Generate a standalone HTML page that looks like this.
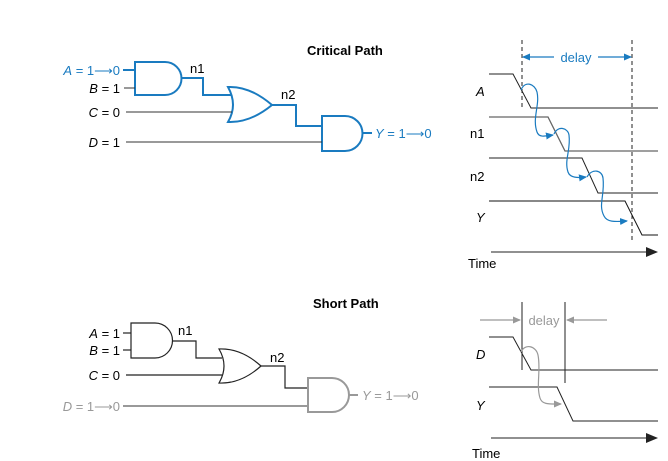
<!DOCTYPE html>
<html><head><style>
html,body{margin:0;padding:0;background:#fff;}
svg{display:block;}
text{font-family:"Liberation Sans",sans-serif;font-size:13px;}
</style></head><body>
<svg width="668" height="461" viewBox="0 0 668 461" xmlns="http://www.w3.org/2000/svg">
<defs>
<marker id="bl" markerWidth="8" markerHeight="8" refX="7" refY="4" orient="auto" markerUnits="userSpaceOnUse"><path d="M0,0.5 L8,4 L0,7.5Z" fill="#1a7bc0"/></marker>
<marker id="gr" markerWidth="8" markerHeight="8" refX="7" refY="4" orient="auto" markerUnits="userSpaceOnUse"><path d="M0,0.5 L8,4 L0,7.5Z" fill="#999"/></marker>
<marker id="bk" markerWidth="12" markerHeight="10" refX="11" refY="5" orient="auto" markerUnits="userSpaceOnUse"><path d="M0,0 L12,5 L0,10Z" fill="#222"/></marker>
</defs>

<text x="307" y="55" font-weight="bold">Critical Path</text>
<g fill="none" stroke="#1a7bc0" stroke-width="2">
<path d="M135,62 H165 A16.5,16.5 0 0 1 165,95 H135 Z"/>
<path d="M123,70 H135"/>
<path d="M181,78 H203 V95 H231"/>
<path d="M228,87 Q250,86 272,105 Q250,123 228,122 Q238,105 228,87 Z"/>
<path d="M272,105 H296 V126 H322"/>
<path d="M322,116 H345 A17.5,17.5 0 0 1 345,151 H322 Z"/>
<path d="M362,133 H372"/>
</g>
<g stroke="#333" stroke-width="1">
<path d="M124,88 H135"/>
<path d="M126,112 H232"/>
<path d="M126,142 H322"/>
</g>
<text x="120" y="75" fill="#1a7bc0" text-anchor="end"><tspan font-style="italic">A</tspan> = 1⟶0</text>
<text x="120" y="93" text-anchor="end"><tspan font-style="italic">B</tspan> = 1</text>
<text x="120" y="117" text-anchor="end"><tspan font-style="italic">C</tspan> = 0</text>
<text x="120" y="147" text-anchor="end"><tspan font-style="italic">D</tspan> = 1</text>
<text x="190" y="73">n1</text>
<text x="281" y="99">n2</text>
<text x="375" y="138" fill="#1a7bc0"><tspan font-style="italic">Y</tspan> = 1⟶0</text>

<g stroke="#222" stroke-width="1" stroke-dasharray="4,3">
<path d="M522,40 V110"/><path d="M632,40 V243"/>
</g>
<path d="M554,57 H523" stroke="#1a7bc0" stroke-width="1.2" marker-end="url(#bl)"/>
<path d="M598,57 H631" stroke="#1a7bc0" stroke-width="1.2" marker-end="url(#bl)"/>
<text x="576" y="62" fill="#1a7bc0" text-anchor="middle">delay</text>
<g stroke="#222" stroke-width="1" fill="none">
<path d="M489,74 H513 L531,108 H658"/>
<path d="M489,117 H548 L565,151 H658" stroke="#666" stroke-width="1.3"/>
<path d="M489,158 H582 L598,193 H658"/>
<path d="M489,201 H625 L642,235 H658" stroke="#111"/>
</g>
<path d="M491,252 H657" stroke="#222" marker-end="url(#bk)"/>
<g stroke="#1a7bc0" stroke-width="1.2" fill="none">
<path d="M521,90 C525,80 535,84 537,92 C540,105 532,118 537,132 C539,138 546,136 553,135" marker-end="url(#bl)"/>
<path d="M554,134 C558,125 568,128 569,135 C571,150 564,160 568,172 C570,178 578,178 586,177" marker-end="url(#bl)"/>
<path d="M587,177 C592,168 602,170 603,178 C605,195 598,205 604,216 C607,222 614,222 627,221" marker-end="url(#bl)"/>
</g>
<text x="476" y="96" font-style="italic">A</text>
<text x="470" y="138">n1</text>
<text x="470" y="181">n2</text>
<text x="476" y="222" font-style="italic">Y</text>
<text x="468" y="268">Time</text>

<text x="313" y="308" font-weight="bold">Short Path</text>
<g fill="none" stroke="#222" stroke-width="1.2">
<path d="M131,323 H155 A17.5,17.5 0 0 1 155,358 H131 Z"/>
<path d="M123,333 H131"/><path d="M123,350 H131"/>
<path d="M172,341 H196 V358 H222"/>
<path d="M219,349 Q241,348 261,366 Q241,384 219,383 Q229,366 219,349 Z"/>
<path d="M261,366 H285 V388 H308"/>
<path d="M126,375 H222"/>
</g>
<g fill="none" stroke="#999" stroke-width="2">
<path d="M308,378 H332 A17,17 0 0 1 332,412 H308 Z"/>
<path d="M123,406 H308"/>
<path d="M349,395 H358"/>
</g>
<text x="120" y="338" text-anchor="end"><tspan font-style="italic">A</tspan> = 1</text>
<text x="120" y="355" text-anchor="end"><tspan font-style="italic">B</tspan> = 1</text>
<text x="120" y="380" text-anchor="end"><tspan font-style="italic">C</tspan> = 0</text>
<text x="120" y="411" text-anchor="end" fill="#999"><tspan font-style="italic">D</tspan> = 1⟶0</text>
<text x="178" y="335">n1</text>
<text x="270" y="362">n2</text>
<text x="362" y="400" fill="#999"><tspan font-style="italic">Y</tspan> = 1⟶0</text>

<g stroke="#222" stroke-width="1">
<path d="M522,302 V370"/><path d="M565,302 V383"/>
</g>
<path d="M480,320 H520" stroke="#999" stroke-width="1.2" marker-end="url(#gr)"/>
<path d="M607,320 H567" stroke="#999" stroke-width="1.2" marker-end="url(#gr)"/>
<text x="544" y="325" fill="#999" text-anchor="middle">delay</text>
<g stroke="#222" stroke-width="1" fill="none">
<path d="M489,337 H513 L531,370 H658"/>
<path d="M489,387 H557 L573,421 H658"/>
</g>
<path d="M521,352 C525,343 536,346 538,355 C541,370 536,385 540,398 C542,405 550,404 561,404" stroke="#999" stroke-width="1.2" fill="none" marker-end="url(#gr)"/>
<path d="M491,438 H657" stroke="#222" marker-end="url(#bk)"/>
<text x="476" y="359" font-style="italic">D</text>
<text x="476" y="410" font-style="italic">Y</text>
<text x="472" y="458">Time</text>
</svg>
</body></html>
